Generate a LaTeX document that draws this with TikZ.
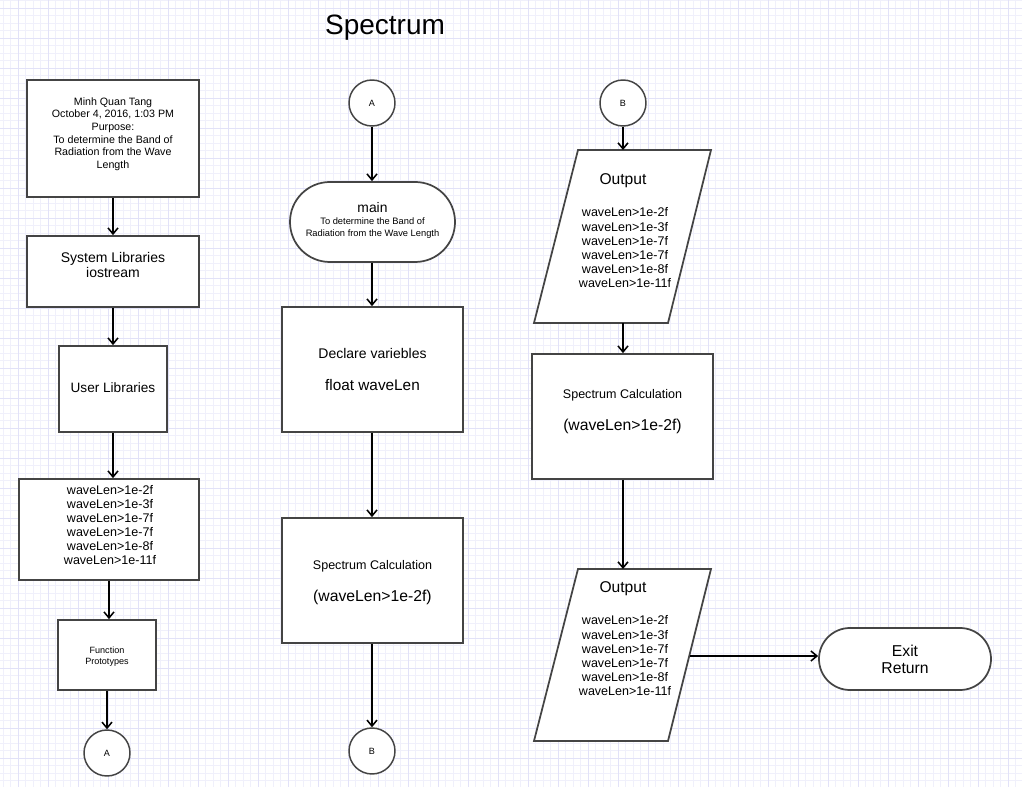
\documentclass[tikz,border=0pt]{standalone}
\usepackage{fontspec}
\setmainfont{Liberation Sans}
\usetikzlibrary{arrows.meta,calc}
\definecolor{gridminor}{RGB}{240,240,251}
\definecolor{gridmajor}{RGB}{226,226,248}
\definecolor{edge}{RGB}{68,68,68}
\newcommand{\fs}[2]{\fontsize{#1}{#2}\selectfont}
\begin{document}
\begin{tikzpicture}[x=0.75pt,y=-0.75pt,
  box/.style={draw=edge,line width=1.3pt,fill=white,rectangle,inner sep=0pt},
  term/.style={box,rounded corners=#1},
  conn/.style={circle,draw=edge,line width=1.1pt,fill=white,minimum size=34.5pt,inner sep=0pt,font=\fs{6.8}{8}},
  arr/.style={draw=black,line width=1.15pt,-{Straight Barb[length=4.5pt,width=7.5pt]}},
  txt/.style={align=center,inner sep=0pt},
  para/.style={draw=edge,line width=1.3pt,fill=white}
]
\useasboundingbox (0,0) rectangle (1022,787);
\fill[white] (0,0) rectangle (1022,787);
% background grid
\foreach \x in {3.3,10.8,...,1022} \draw[gridminor,line width=0.7pt] (\x,0) -- (\x,787);
\foreach \y in {0.8,8.3,...,787} \draw[gridminor,line width=0.7pt] (0,\y) -- (1022,\y);
\foreach \x in {18.3,48.3,...,1022} \draw[gridmajor,line width=0.7pt] (\x,0) -- (\x,787);
\foreach \y in {8.3,38.3,...,787} \draw[gridmajor,line width=0.7pt] (0,\y) -- (1022,\y);

% title
\node[font=\fs{21}{25}] (title) at (385,28) {Spectrum};

% ---------- left column ----------
\node[box,minimum width=129pt,minimum height=87.75pt] (hdr) at (113,138.5) {};
\node[txt,font=\fs{8}{9.4}] (hdrtxt) at (113,134) {Minh Quan Tang\\October 4, 2016, 1:03 PM\\Purpose:\\To determine the Band of\\Radiation from the Wave\\Length};

\node[box,minimum width=129pt,minimum height=53.25pt] (sys) at (113,271.5) {};
\node[txt,font=\fs{10.5}{11.25}] (systxt) at (113,265) {System Libraries\\iostream};

\node[box,minimum width=81pt,minimum height=64.5pt] (usr) at (113,389) {};
\node[txt,font=\fs{10.2}{12}] (usrtxt) at (113,388) {User Libraries};

\node[box,minimum width=135pt,minimum height=75.75pt] (vals) at (109,529.5) {};
\node[txt,font=\fs{9.4}{10.5}] (valstxt) at (110,525) {waveLen>1e-2f\\waveLen>1e-3f\\waveLen>1e-7f\\waveLen>1e-7f\\waveLen>1e-8f\\waveLen>1e-11f};

\node[box,minimum width=73.5pt,minimum height=52.5pt] (fp) at (107,655) {};
\node[txt,font=\fs{6.8}{8.2}] (fptxt) at (107,657) {Function\\Prototypes};

\node[conn] (cA1) at (107,753) {A};

\draw[arr] (hdr.south) -- (hdr.south |- sys.north);
\draw[arr] (sys.south) -- (sys.south |- usr.north);
\draw[arr] (usr.south) -- (usr.south |- vals.north);
\draw[arr] (vals.south) -- (vals.south |- fp.north);
\draw[arr] (fp.south) -- (fp.south |- cA1.north);

% ---------- middle column ----------
\node[conn] (cA2) at (372,103) {A};

\node[term=29.9pt,minimum width=123.75pt,minimum height=60pt] (main) at (372.5,222) {};
\node[txt,font=\fs{10.4}{12}] (maintxt) at (372.5,208) {main};
\node[txt,font=\fs{7}{9}] (mainsub) at (372.5,228.5) {To determine the Band of\\Radiation from the Wave Length};

\node[box,minimum width=135.75pt,minimum height=93.75pt] (decl) at (372.5,369.5) {};
\node[txt,font=\fs{10.5}{12}] (decltxt) at (372.5,354) {Declare variebles};
\node[txt,font=\fs{11.5}{13}] (declvar) at (372.5,385) {float waveLen};

\node[box,minimum width=135.75pt,minimum height=93.75pt] (calc1) at (372.5,580.5) {};
\node[txt,font=\fs{9.4}{11}] (calc1txt) at (372.5,566) {Spectrum Calculation};
\node[txt,font=\fs{11.8}{13}] (calc1cond) at (372.5,597) {(waveLen>1e-2f)};

\node[conn] (cB1) at (372,751) {B};

\draw[arr] (cA2.south) -- (cA2.south |- main.north);
\draw[arr] (cA2 |- main.south) -- (cA2 |- decl.north);
\draw[arr] (cA2 |- decl.south) -- (cA2 |- calc1.north);
\draw[arr] (cA2 |- calc1.south) -- (cB1.north);

% ---------- right column ----------
\node[conn] (cB2) at (623,103) {B};

% first output parallelogram
\coordinate (o1tl) at (578,150);
\coordinate (o1tr) at (711,150);
\coordinate (o1br) at (668,323);
\coordinate (o1bl) at (534,323);
\draw[para] (o1tl) -- (o1tr) -- (o1br) -- (o1bl) -- cycle;
\node[txt,font=\fs{11.7}{13}] (out1) at (623,181) {Output};
\node[txt,font=\fs{9.4}{10.65}] (out1vals) at (625,248) {waveLen>1e-2f\\waveLen>1e-3f\\waveLen>1e-7f\\waveLen>1e-7f\\waveLen>1e-8f\\waveLen>1e-11f};

\node[box,minimum width=135.75pt,minimum height=93.75pt] (calc2) at (622.5,416.5) {};
\node[txt,font=\fs{9.4}{11}] (calc2txt) at (622.5,395) {Spectrum Calculation};
\node[txt,font=\fs{11.8}{13}] (calc2cond) at (622.5,426) {(waveLen>1e-2f)};

% second output parallelogram
\coordinate (o2tl) at (578,569);
\coordinate (o2tr) at (711,569);
\coordinate (o2br) at (668,741);
\coordinate (o2bl) at (534,741);
\draw[para] (o2tl) -- (o2tr) -- (o2br) -- (o2bl) -- cycle;
\node[txt,font=\fs{11.7}{13}] (out2) at (623,589) {Output};
\node[txt,font=\fs{9.4}{10.65}] (out2vals) at (625,656) {waveLen>1e-2f\\waveLen>1e-3f\\waveLen>1e-7f\\waveLen>1e-7f\\waveLen>1e-8f\\waveLen>1e-11f};
\coordinate (o2r) at (689.5,656);

\node[term=23.2pt,minimum width=129pt,minimum height=46.5pt] (exit) at (905,659) {};
\node[txt,font=\fs{11.8}{12.75}] (exittxt) at (905,659.5) {Exit\\Return};

\draw[arr] (cB2.south) -- (cB2.south |- o1tl);
\draw[arr] (cB2 |- o1bl) -- (cB2 |- calc2.north);
\draw[arr] (cB2 |- calc2.south) -- (cB2 |- o2tl);
\draw[arr] (o2r) -- (o2r -| exit.west);
\end{tikzpicture}
\end{document}
